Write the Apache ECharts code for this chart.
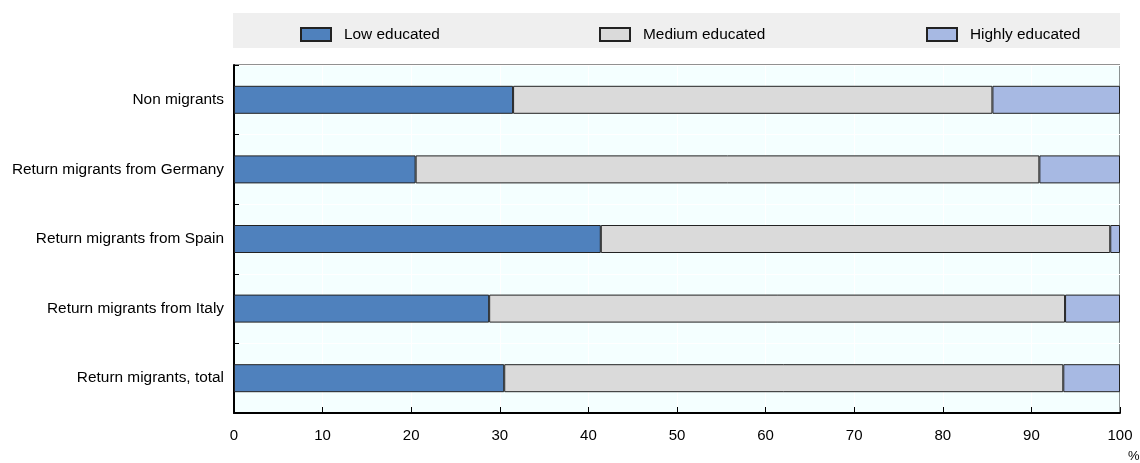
<!DOCTYPE html>
<html>
<head>
<meta charset="utf-8">
<script src="https://cdn.jsdelivr.net/npm/echarts@6/dist/echarts.min.js"></script>
<style>
  html, body { margin: 0; padding: 0; background: #fff; }
  #chart { width: 1140px; height: 463px; }
</style>
</head>
<body>
<div id="chart"></div>
<script>
// Educational attainment by migration status (% of population)
const categories = [
  'Non migrants',
  'Return migrants from Germany',
  'Return migrants from Spain',
  'Return migrants from Italy',
  'Return migrants, total'
];
const lowEducated = [31.5, 20.5, 41.4, 28.8, 30.5];
const mediumEducated = [54.1, 70.4, 57.5, 65.0, 63.1];
const highlyEducated = [14.4, 9.1, 1.1, 6.2, 6.4];
const xTicks = { min: 0, max: 100, step: 10 };

const FONT = 'Liberation Sans, Arial, sans-serif';
const seriesDefs = [
  { name: 'Low educated', data: lowEducated, color: '#4F81BD' },
  { name: 'Medium educated', data: mediumEducated, color: '#DADADA' },
  { name: 'Highly educated', data: highlyEducated, color: '#A7B9E3' }
];
const legendLefts = [300, 599, 926];

const chart = echarts.init(document.getElementById('chart'), null, { renderer: 'canvas' });

chart.setOption({
  animation: false,
  textStyle: { fontFamily: FONT },
  graphic: [
    {
      type: 'rect', z: -1,
      shape: { x: 233, y: 13, width: 887, height: 35 },
      style: { fill: '#EFEFEF' }
    },
    {
      type: 'text',
      left: 1128, top: 450,
      style: { text: '%', font: '13px ' + FONT, fill: '#000' }
    }
  ],
  legend: seriesDefs.map((s, i) => ({
    data: [{ name: s.name, icon: 'rect' }],
    left: legendLefts[i],
    top: 27,
    padding: 0,
    itemWidth: 30,
    itemHeight: 13,
    selectedMode: false,
    textStyle: { fontFamily: FONT, fontSize: 15.4, color: '#000', padding: [0, 0, 0, 8] }
  })),
  grid: {
    left: 234, right: 20, top: 65, bottom: 50,
    show: true,
    backgroundColor: '#F4FFFF',
    borderColor: '#222',
    borderWidth: 1
  },
  xAxis: {
    type: 'value',
    min: xTicks.min, max: xTicks.max, interval: xTicks.step,
    axisLine: { show: true, lineStyle: { color: '#000', width: 2 } },
    axisTick: { show: true, inside: true, length: 6, lineStyle: { color: '#000' } },
    axisLabel: { color: '#000', fontSize: 15, fontFamily: FONT, margin: 15 },
    splitLine: { show: true, lineStyle: { color: '#FFFFFF', width: 1 } }
  },
  yAxis: {
    type: 'category',
    data: categories,
    inverse: true,
    axisLine: { show: true, lineStyle: { color: '#000', width: 2 } },
    axisTick: { show: true, inside: true, length: 5, lineStyle: { color: '#000' } },
    axisLabel: { color: '#000', fontSize: 15.4, fontFamily: FONT, margin: 10 },
    splitLine: { show: true, lineStyle: { color: '#FFFFFF', width: 1 } }
  },
  series: seriesDefs.map(s => ({
    name: s.name,
    type: 'bar',
    stack: 'total',
    barWidth: 28,
    data: s.data,
    itemStyle: { color: s.color, borderColor: '#222', borderWidth: 1 }
  }))
});
</script>
</body>
</html>
